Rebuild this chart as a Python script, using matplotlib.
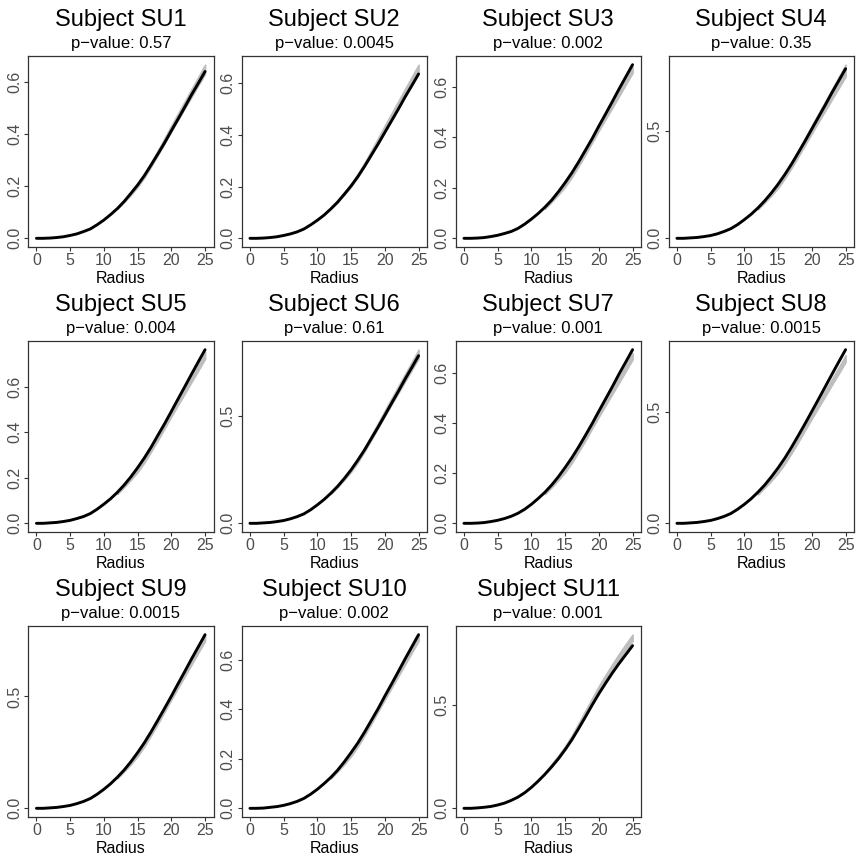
import matplotlib.pyplot as plt
import numpy as np

plt.rcParams['font.family'] = ['Liberation Sans', 'DejaVu Sans']

# radius grid for the observed curves, envelope drawn from r = 12 on
radius = np.arange(0, 26)
env_radius = radius[12:]

subjects = ["SU1", "SU2", "SU3", "SU4", "SU5", "SU6",
            "SU7", "SU8", "SU9", "SU10", "SU11"]
p_values = ["0.57", "0.0045", "0.002", "0.35", "0.004", "0.61",
            "0.001", "0.0015", "0.0015", "0.002", "0.001"]

# observed curves
su1_obs = [0, 0, 0.001, 0.003, 0.006, 0.011, 0.017, 0.026, 0.036, 0.052, 0.070, 0.091, 0.114,
           0.141, 0.172, 0.204, 0.240, 0.281, 0.323, 0.366, 0.412, 0.457, 0.503, 0.550, 0.594, 0.639]
su2_obs = [0, 0, 0.001, 0.003, 0.006, 0.011, 0.017, 0.025, 0.036, 0.052, 0.070, 0.090, 0.114,
           0.140, 0.171, 0.203, 0.239, 0.279, 0.322, 0.365, 0.410, 0.455, 0.500, 0.547, 0.591, 0.636]
su3_obs = [0, 0, 0.001, 0.003, 0.007, 0.012, 0.019, 0.027, 0.039, 0.056, 0.076, 0.098, 0.123,
           0.151, 0.184, 0.220, 0.259, 0.302, 0.348, 0.394, 0.444, 0.492, 0.541, 0.591, 0.639, 0.687]
su4_obs = [0, 0, 0.002, 0.004, 0.008, 0.013, 0.021, 0.032, 0.045, 0.064, 0.087, 0.112, 0.141,
           0.174, 0.211, 0.252, 0.297, 0.346, 0.399, 0.453, 0.509, 0.565, 0.621, 0.679, 0.734, 0.789]
su5_obs = [0, 0, 0.002, 0.004, 0.008, 0.013, 0.021, 0.030, 0.043, 0.062, 0.084, 0.108, 0.136,
           0.168, 0.204, 0.244, 0.287, 0.334, 0.386, 0.437, 0.491, 0.546, 0.600, 0.655, 0.709, 0.762]
su6_obs = [0, 0, 0.002, 0.004, 0.008, 0.013, 0.021, 0.031, 0.044, 0.063, 0.086, 0.111, 0.140,
           0.172, 0.209, 0.249, 0.294, 0.342, 0.395, 0.448, 0.503, 0.559, 0.614, 0.671, 0.725, 0.780]
su7_obs = [0, 0, 0.001, 0.003, 0.007, 0.012, 0.019, 0.028, 0.040, 0.056, 0.076, 0.099, 0.124,
           0.153, 0.186, 0.223, 0.262, 0.305, 0.351, 0.398, 0.448, 0.497, 0.546, 0.597, 0.645, 0.694]
su8_obs = [0, 0, 0.002, 0.004, 0.008, 0.013, 0.021, 0.031, 0.044, 0.063, 0.085, 0.110, 0.139,
           0.171, 0.208, 0.248, 0.292, 0.341, 0.393, 0.446, 0.501, 0.556, 0.612, 0.668, 0.723, 0.777]
su9_obs = [0, 0, 0.002, 0.004, 0.008, 0.013, 0.021, 0.031, 0.044, 0.063, 0.085, 0.110, 0.139,
           0.171, 0.208, 0.249, 0.293, 0.342, 0.394, 0.447, 0.501, 0.557, 0.612, 0.668, 0.722, 0.776]
su10_obs = [0, 0, 0.001, 0.004, 0.007, 0.012, 0.019, 0.028, 0.040, 0.057, 0.077, 0.100, 0.125,
            0.154, 0.188, 0.225, 0.264, 0.308, 0.355, 0.402, 0.453, 0.502, 0.552, 0.603, 0.652, 0.701]
su11_obs = [0, 0, 0.002, 0.005, 0.009, 0.016, 0.025, 0.038, 0.054, 0.075, 0.101, 0.131, 0.164,
            0.200, 0.239, 0.283, 0.331, 0.385, 0.441, 0.498, 0.553, 0.604, 0.653, 0.699, 0.742, 0.785]

# simulation envelope, lower and upper bounds (r = 12 .. 25)
su1_lo = [0.113, 0.139, 0.166, 0.197, 0.233, 0.275, 0.319, 0.364, 0.410, 0.454, 0.498, 0.542, 0.586, 0.630]
su1_hi = [0.119, 0.146, 0.176, 0.207, 0.246, 0.290, 0.336, 0.384, 0.432, 0.479, 0.525, 0.572, 0.618, 0.665]
su2_lo = [0.115, 0.141, 0.169, 0.200, 0.237, 0.279, 0.324, 0.370, 0.416, 0.461, 0.506, 0.550, 0.595, 0.640]
su2_hi = [0.120, 0.148, 0.177, 0.210, 0.249, 0.293, 0.340, 0.388, 0.437, 0.484, 0.531, 0.578, 0.625, 0.672]
su3_lo = [0.117, 0.144, 0.173, 0.204, 0.242, 0.286, 0.331, 0.379, 0.426, 0.472, 0.517, 0.563, 0.609, 0.655]
su3_hi = [0.121, 0.149, 0.179, 0.212, 0.251, 0.296, 0.343, 0.392, 0.441, 0.488, 0.536, 0.583, 0.631, 0.678]
su4_lo = [0.135, 0.166, 0.199, 0.235, 0.279, 0.328, 0.381, 0.435, 0.489, 0.542, 0.595, 0.648, 0.700, 0.753]
su4_hi = [0.145, 0.178, 0.213, 0.252, 0.299, 0.352, 0.409, 0.467, 0.525, 0.582, 0.638, 0.695, 0.751, 0.808]
su5_lo = [0.129, 0.159, 0.191, 0.225, 0.267, 0.315, 0.365, 0.417, 0.469, 0.520, 0.570, 0.621, 0.671, 0.722]
su5_hi = [0.135, 0.165, 0.199, 0.235, 0.278, 0.328, 0.381, 0.435, 0.489, 0.541, 0.594, 0.647, 0.699, 0.752]
su6_lo = [0.137, 0.169, 0.203, 0.240, 0.284, 0.335, 0.389, 0.444, 0.499, 0.553, 0.607, 0.660, 0.714, 0.768]
su6_hi = [0.145, 0.178, 0.213, 0.252, 0.299, 0.352, 0.409, 0.467, 0.525, 0.582, 0.638, 0.695, 0.751, 0.808]
su7_lo = [0.117, 0.144, 0.173, 0.204, 0.242, 0.286, 0.331, 0.379, 0.426, 0.472, 0.517, 0.563, 0.609, 0.655]
su7_hi = [0.122, 0.150, 0.180, 0.212, 0.252, 0.296, 0.344, 0.393, 0.442, 0.490, 0.537, 0.585, 0.632, 0.680]
su8_lo = [0.129, 0.159, 0.191, 0.225, 0.267, 0.315, 0.365, 0.417, 0.469, 0.520, 0.570, 0.621, 0.671, 0.722]
su8_hi = [0.135, 0.165, 0.199, 0.235, 0.278, 0.328, 0.381, 0.435, 0.489, 0.541, 0.594, 0.647, 0.699, 0.752]
su9_lo = [0.134, 0.165, 0.197, 0.233, 0.277, 0.326, 0.378, 0.432, 0.486, 0.539, 0.591, 0.643, 0.696, 0.748]
su9_hi = [0.138, 0.169, 0.203, 0.240, 0.285, 0.336, 0.390, 0.445, 0.501, 0.554, 0.608, 0.662, 0.716, 0.770]
su10_lo = [0.121, 0.149, 0.178, 0.211, 0.250, 0.295, 0.342, 0.391, 0.439, 0.487, 0.534, 0.581, 0.629, 0.676]
su10_hi = [0.124, 0.153, 0.183, 0.217, 0.257, 0.303, 0.352, 0.402, 0.452, 0.500, 0.549, 0.598, 0.646, 0.695]
su11_lo = [0.168, 0.206, 0.246, 0.289, 0.338, 0.396, 0.454, 0.512, 0.569, 0.621, 0.671, 0.719, 0.764, 0.808]
su11_hi = [0.172, 0.214, 0.256, 0.300, 0.352, 0.411, 0.471, 0.531, 0.590, 0.644, 0.696, 0.746, 0.793, 0.838]

observed = [su1_obs, su2_obs, su3_obs, su4_obs, su5_obs, su6_obs,
            su7_obs, su8_obs, su9_obs, su10_obs, su11_obs]
env_lower = [su1_lo, su2_lo, su3_lo, su4_lo, su5_lo, su6_lo,
             su7_lo, su8_lo, su9_lo, su10_lo, su11_lo]
env_upper = [su1_hi, su2_hi, su3_hi, su4_hi, su5_hi, su6_hi,
             su7_hi, su8_hi, su9_hi, su10_hi, su11_hi]

ticks_fine = [0.0, 0.2, 0.4, 0.6]
ticks_coarse = [0.0, 0.5]
y_ticks = [ticks_fine, ticks_fine, ticks_fine, ticks_coarse, ticks_fine, ticks_coarse,
           ticks_fine, ticks_coarse, ticks_coarse, ticks_fine, ticks_coarse]
x_ticks = [0, 5, 10, 15, 20, 25]

W, H = 857, 858
fig = plt.figure(figsize=(W / 100, H / 100), dpi=100)

col_left = [28, 241.5, 455.5, 668.5]
row_top = [56, 341, 626]
box_w, box_h = 185.5, 191

for i, name in enumerate(subjects):
    r, c = divmod(i, 4)
    ax = fig.add_axes([col_left[c] / W, 1 - (row_top[r] + box_h) / H,
                       box_w / W, box_h / H])

    ax.fill_between(env_radius, env_lower[i], env_upper[i],
                    color='#bebebe', lw=1.2, edgecolor='#bebebe')
    ax.plot(radius, observed[i], color='black', lw=2.1,
            solid_joinstyle='round', solid_capstyle='round')

    ax.margins(x=0.05, y=0.05)
    ax.set_xticks(x_ticks)
    ax.set_yticks(y_ticks[i])
    ax.set_yticklabels(['%.1f' % t for t in y_ticks[i]])

    for side in ax.spines.values():
        side.set_color('#333333')
        side.set_linewidth(0.9)
    ax.tick_params(length=2.75, width=0.8, color='#333333',
                   labelcolor='#4d4d4d', labelsize=11.5, pad=1.5)
    ax.tick_params(axis='y', labelrotation=90)
    for lab in ax.get_yticklabels():
        lab.set_va('center')

    ax.set_xlabel('Radius', fontsize=11.5)
    ax.xaxis.set_label_coords(0.5, -0.125)
    ax.xaxis.label.set_va('top')

    ax.text(0.5, 1 + 30 / box_h, 'Subject ' + name, transform=ax.transAxes,
            ha='center', va='baseline', fontsize=17)
    ax.text(0.5, 1 + 8 / box_h, 'p\u2212value: ' + p_values[i],
            transform=ax.transAxes, ha='center', va='baseline', fontsize=12)

fig.savefig('out.png', dpi=100, facecolor='white')
